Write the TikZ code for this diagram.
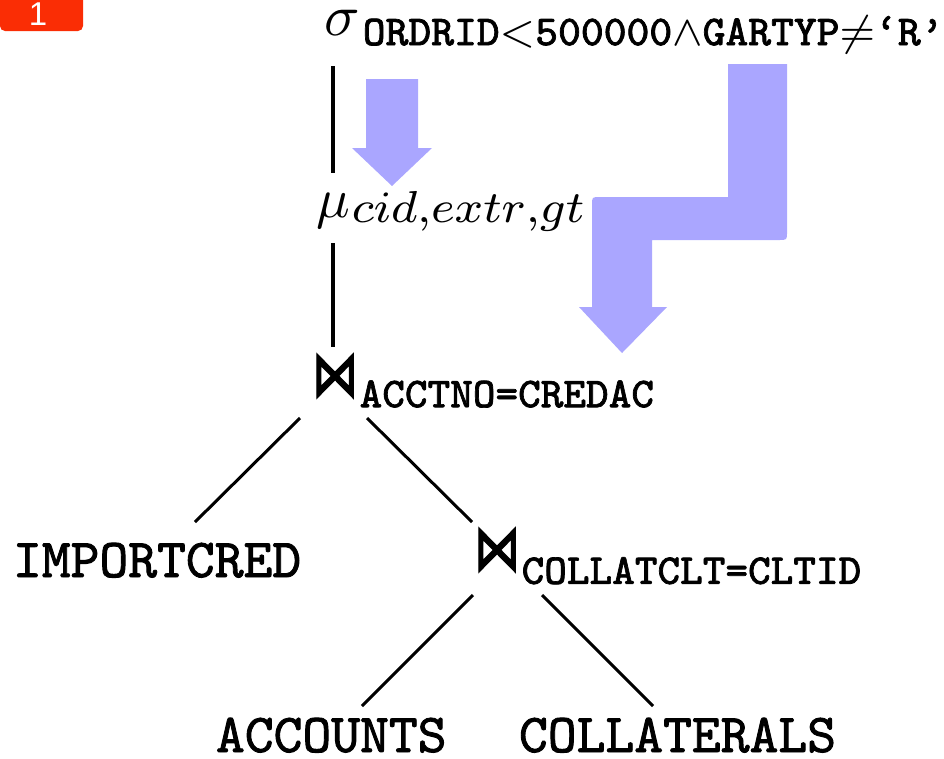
\documentclass[tikz,border=0pt]{standalone}
\usepackage{fontspec}
\usetikzlibrary{calc}
\newfontfamily\badgefont{Liberation Sans}
\newfontfamily\treett{Latin Modern Mono}[FakeBold=1.6]
\newfontfamily\opfont{DejaVu Sans}[FakeBold=2.5]
\definecolor{badgered}{RGB}{250,45,5}
\definecolor{hintblue}{RGB}{170,166,255}
\newcommand\subtt{\fontsize{8}{9}\selectfont\treett}
\newcommand\reltt{\fontsize{10.3}{12}\selectfont\treett}
\newcommand\joinop{\scalebox{1.08}[1.5]{\opfont\fontsize{8}{9}\selectfont ⋈}}

\begin{document}
\begin{tikzpicture}[x=1pt,y=-1pt,
  lbl/.style={inner sep=0pt, outer sep=0pt, anchor=base west, scale=5.33},
  vline/.style={line width=3.6pt},
  dline/.style={line width=3pt},
  hint/.style={fill=hintblue}]
\useasboundingbox (0,0) rectangle (944,758);

% page badge
\fill[badgered, rounded corners=5pt] (0,-10) rectangle (83,31);
\node[inner sep=0pt, anchor=base, text=white,
      font={\badgefont\fontsize{33}{36}\selectfont}] (badge) at (38,25) {1};

% operator tree
\node[lbl] (sig) at (324,35)
  {\scalebox{1.1}{$\sigma$}\hspace{0.6pt}\raisebox{-1.9pt}{\scalebox{1.008}[1]{\subtt ORDRID$<$500000$\wedge$GARTYP$\neq$‘R’}}};
\node[lbl] (mu) at (316,217)
  {\scalebox{1.05}{$\mu$}\hspace{0.4pt}\raisebox{-1.1pt}{\scalebox{1.12}[1.05]{\fontsize{8}{9}\selectfont$cid{,}extr{,}gt$}}};
\node[lbl] (j1) at (312,396)
  {\joinop\hspace{0.3pt}\raisebox{-2.1pt}{\subtt ACCTNO=CREDAC}};
\node[lbl] (j2) at (474,570)
  {\joinop\hspace{0.3pt}\raisebox{-2.6pt}{\subtt COLLATCLT=CLTID}};
\node[lbl] (imp) at (13,577) {\reltt IMPORTCRED};
\node[lbl] (acc) at (216,752) {\reltt ACCOUNTS};
\node[lbl] (col) at (519,752) {\reltt COLLATERALS};

% tree edges
\draw[vline] ($(sig.base west)+(9,31)$) -- ($(mu.base west)+(17,-44)$);
\draw[vline] ($(mu.base west)+(17,26)$) -- ($(j1.base west)+(21,-49)$);
\draw[dline] ($(j1.base west)+(-12,22)$) -- ($(imp.base west)+(182,-55)$);
\draw[dline] ($(j1.base west)+(55,22)$) -- ($(j2.base west)+(-2,-48)$);
\draw[dline] ($(j2.base west)+(-1,25)$) -- ($(acc.base west)+(146,-46)$);
\draw[dline] ($(j2.base west)+(68,25)$) -- ($(col.base west)+(134,-46)$);

% rewrite hints: pushing the operators down
\fill[hint] (366,79) -- (418,79) -- (418,148) -- (432,148) -- (392,186)
  -- (352,148) -- (366,148) -- cycle;
\fill[hint] (728,64) -- (787,64) -- (787,232) .. controls (787,240) .. (779,240)
  -- (652,240) -- (652,307) -- (667,307) -- (622,353) -- (579,307) -- (592,307)
  -- (592,205) .. controls (592,197) .. (600,197) -- (728,197) -- cycle;
\end{tikzpicture}
\end{document}
